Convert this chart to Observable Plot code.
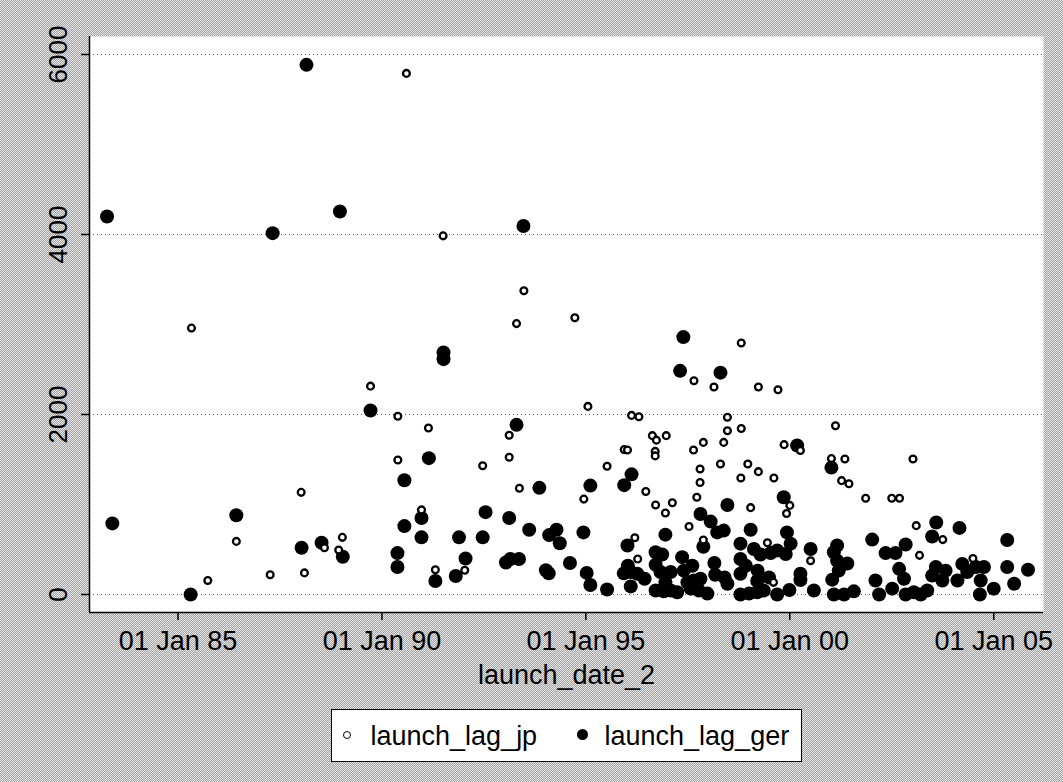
<!DOCTYPE html>
<html>
<head>
<meta charset="utf-8">
<script src="https://cdn.jsdelivr.net/npm/d3@7"></script>
<script src="https://cdn.jsdelivr.net/npm/@observablehq/plot@0.6"></script>
<style>
  html, body { margin: 0; padding: 0; }
  body {
    width: 1063px; height: 782px; overflow: hidden; position: relative;
    background: repeating-conic-gradient(#a2a2a2 0% 25%, #e6e6e6 0% 50%) 0 0 / 2px 2px;
    font-family: "Liberation Sans", Arial, sans-serif;
  }
  #chart { position: absolute; left: 0; top: 0; }
  #legend {
    position: absolute; left: 331px; top: 709px; width: 471px; height: 53px;
    box-sizing: border-box; border: 1.5px solid #000; background: #fff;
    font-size: 27px; line-height: 27px; color: #000;
  }
  #legend .item { position: absolute; top: 12.5px; white-space: nowrap; }
  #legend .mark { position: absolute; border-radius: 50%; box-sizing: border-box; }
</style>
</head>
<body>
<div id="chart"></div>
<div id="legend"></div>
<script>
// Launch dates (decimal years) and launch lags (days)
const jpDate = [
  1985.33, 1985.73, 1986.43, 1987.26, 1988.02, 1988.10, 1988.59, 1989.03, 1988.94, 1989.72,
  1990.39, 1991.14, 1990.39, 1992.47, 1990.97, 1991.31, 1992.03, 1990.60, 1991.50, 1993.48,
  1993.30, 1994.73, 1993.12, 1993.12, 1993.37, 1994.95, 1995.05, 1995.52, 1996.12, 1996.30,
  1995.94, 1996.02, 1996.63, 1996.73, 1996.97, 1996.70, 1996.70, 1996.47, 1996.71, 1997.12,
  1996.95, 1997.53, 1997.65, 1997.64, 1997.88, 1997.80, 1997.80, 1997.72, 1996.20, 1996.27,
  1997.88, 1998.14, 1998.81, 1999.23, 1999.71, 1998.47, 1998.47, 1998.81, 1998.38, 1998.30,
  1998.97, 1999.23, 1998.80, 1999.61, 1999.86, 2000.26, 1999.04, 2000.00, 1999.92, 1999.45,
  1999.60, 2000.51, 2001.12, 2001.02, 2001.35, 2001.27, 2001.45, 2001.86, 2002.50, 2002.69,
  2003.02, 2003.10, 2003.18, 2003.75, 2004.49
];
const jpLag = [
  2960, 155, 590, 220, 1135, 240, 520, 635, 495, 2315,
  1980, 1850, 1495, 1430, 940, 275, 270, 5790, 3985, 3375,
  3010, 3075, 1770, 1525, 1180, 1060, 2090, 1425, 1990, 1975,
  1610, 1605, 1765, 1715, 1765, 1590, 1540, 1145, 995, 1020,
  905, 755, 2375, 1605, 1690, 1395, 1245, 1080, 630, 395,
  605, 2305, 2795, 2305, 2275, 1970, 1820, 1845, 1690, 1450,
  1450, 1365, 1295, 1295, 1665, 1600, 965, 990, 900, 575,
  135, 375, 1875, 1510, 1505, 1265, 1230, 1070, 1070, 1070,
  1505, 765, 435, 610, 400
];
const gerDate = [
  1983.26, 1983.39, 1985.31, 1986.43, 1988.15, 1987.32, 1988.97, 1988.03, 1988.52, 1989.04,
  1989.72, 1991.15, 1990.55, 1991.51, 1991.51, 1993.47, 1993.30, 1993.86, 1997.39, 1997.31,
  1998.30, 1996.12, 1995.94, 1995.11, 1994.94, 1997.81, 1996.95, 1996.02, 1997.88, 1990.55,
  1990.97, 1990.97, 1990.38, 1990.38, 1991.31, 1991.89, 1992.05, 1991.81, 1992.47, 1992.54,
  1993.12, 1993.04, 1993.15, 1993.36, 1993.61, 1994.10, 1994.28, 1994.36, 1994.02, 1994.09,
  1994.61, 1995.02, 1995.11, 1995.52, 1996.03, 1995.93, 1996.10, 1996.26, 1996.44, 1996.10,
  1996.71, 1996.87, 1996.71, 1996.83, 1997.08, 1996.95, 1996.71, 1996.91, 1997.08, 1997.24,
  1997.36, 1997.61, 1997.40, 1997.49, 1997.65, 1997.81, 1997.57, 1997.77, 1997.98, 1998.06,
  1998.22, 1998.38, 1998.47, 1999.04, 1998.79, 1999.93, 2000.02, 1999.85, 2000.18, 1999.12,
  1999.28, 1999.53, 1999.69, 1999.90, 2000.51, 1998.15, 1998.17, 1998.40, 1998.47, 1998.79,
  1998.92, 1998.79, 1998.79, 1999.00, 1999.20, 1999.21, 1999.20, 1999.49, 1999.36, 1999.69,
  1999.99, 2000.26, 2000.26, 2000.59, 2001.16, 2001.08, 2001.16, 2001.41, 2001.20, 2001.04,
  2001.08, 2001.33, 2001.57, 2002.10, 2002.19, 2002.35, 2002.59, 2002.84, 2002.68, 2002.80,
  2002.51, 2002.84, 2003.04, 2003.21, 2003.37, 2003.59, 2003.49, 2004.16, 2005.33, 2002.02,
  2003.58, 2003.49, 2003.74, 2003.82, 2004.11, 2004.23, 2004.35, 2004.56, 2004.76, 2004.68,
  2004.66, 2005.00, 2005.33, 2005.50, 2005.84, 2001.02
];
const gerLag = [
  4200, 790, 0, 880, 5885, 4015, 4255, 520, 575, 420,
  2045, 1515, 1270, 2690, 2615, 4095, 1885, 1185, 2860, 2485,
  2465, 1335, 1215, 1210, 690, 895, 665, 545, 530, 760,
  850, 635, 460, 305, 150, 635, 400, 205, 635, 915,
  850, 355, 395, 395, 720, 660, 720, 570, 270, 235,
  350, 240, 105, 55, 320, 235, 250, 230, 175, 90,
  470, 445, 330, 250, 250, 135, 45, 35, 45, 25,
  415, 320, 265, 135, 155, 175, 65, 45, 10, 810,
  690, 710, 995, 720, 565, 690, 565, 1080, 1655, 505,
  445, 460, 490, 450, 505, 350, 220, 190, 120, 395,
  320, 230, 0, 10, 25, 265, 150, 190, 45, 0,
  50, 230, 160, 45, 545, 470, 375, 345, 265, 165,
  0, 0, 35, 155, 0, 460, 460, 555, 285, 175,
  65, 0, 25, 0, 45, 800, 645, 740, 605, 610,
  305, 210, 155, 265, 155, 340, 250, 305, 305, 155,
  0, 65, 305, 120, 275, 1410
];

// Axis ticks and labels
const xTicks = [1985, 1990, 1995, 2000, 2005];
const xTickLabels = ["01 Jan 85", "01 Jan 90", "01 Jan 95", "01 Jan 00", "01 Jan 05"];
const yTicks = [0, 2000, 4000, 6000];
const xTitle = "launch_date_2";
const seriesNames = ["launch_lag_jp", "launch_lag_ger"];

const xDomain = [1982.83, 2006.22];
const yDomain = [-200, 6200];

const jp = jpDate.map((d, i) => ({date: d, lag: jpLag[i]}));
const ger = gerDate.map((d, i) => ({date: d, lag: gerLag[i]}));

const font = "'Liberation Sans', Arial, sans-serif";

const chart = Plot.plot({
  width: 1063,
  height: 700,
  marginLeft: 89,
  marginRight: 20,
  marginTop: 36,
  marginBottom: 88,
  style: {background: "none", fontFamily: font, color: "#000", overflow: "visible"},
  x: {domain: xDomain, label: null},
  y: {domain: yDomain, label: null},
  marks: [
    Plot.frame({fill: "white", stroke: "none"}),
    Plot.ruleY(yTicks, {stroke: "#555", strokeWidth: 1, strokeDasharray: "1,3"}),
    Plot.axisY({ticks: yTicks, tickSize: 8, tickFormat: () => "", strokeWidth: 1.5, label: null}),
    Plot.text(yTicks, {
      y: d => d, text: d => String(d), frameAnchor: "left", dx: -31,
      rotate: -90, fontSize: 26, textAnchor: "middle", lineAnchor: "middle", fill: "#000"
    }),
    Plot.axisX({
      ticks: xTicks, tickFormat: d => xTickLabels[xTicks.indexOf(d)],
      tickSize: 8, tickPadding: 10, fontSize: 27, strokeWidth: 1.5, label: null
    }),
    Plot.ruleX([xDomain[0]], {strokeWidth: 1.5}),
    Plot.ruleY([yDomain[0]], {strokeWidth: 1.5}),
    Plot.text([xTitle], {frameAnchor: "bottom", dy: 63, fontSize: 27, lineAnchor: "middle"}),
    Plot.dot(ger, {x: "date", y: "lag", r: 7, fill: "black", stroke: "none"}),
    Plot.dot(jp, {x: "date", y: "lag", r: 3.4, fill: "white", stroke: "black", strokeWidth: 2.3})
  ]
});
document.getElementById("chart").append(chart);

// Legend box below the plot
const legend = document.getElementById("legend");
const items = [
  {name: seriesNames[0], markLeft: 11, size: 8, hollow: true, textLeft: 38.5},
  {name: seriesNames[1], markLeft: 245, size: 11, hollow: false, textLeft: 272.5}
];
for (const it of items) {
  const m = document.createElement("span");
  m.className = "mark";
  m.style.left = it.markLeft + "px";
  m.style.top = (24.5 - it.size / 2) + "px";
  m.style.width = it.size + "px";
  m.style.height = it.size + "px";
  if (it.hollow) { m.style.border = "1.6px solid #000"; m.style.background = "#fff"; }
  else { m.style.background = "#000"; }
  legend.append(m);
  const t = document.createElement("span");
  t.className = "item";
  t.style.left = it.textLeft + "px";
  t.textContent = it.name;
  legend.append(t);
}
</script>
</body>
</html>
